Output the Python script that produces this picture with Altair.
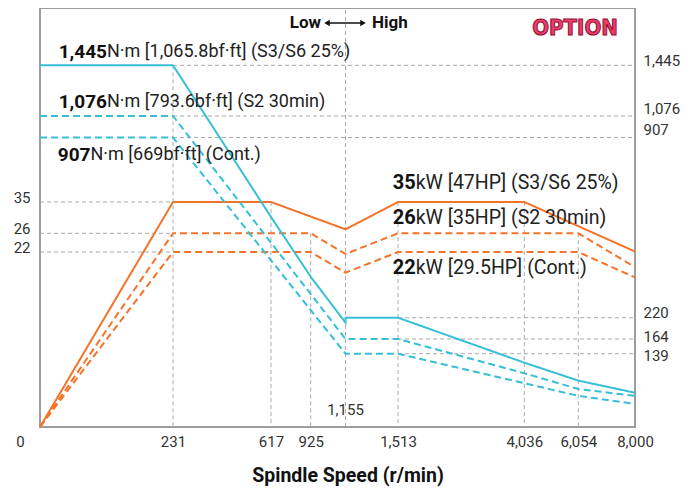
import altair as alt
import pandas as pd

# ---------------- data ----------------
speed_ticks = [0, 231, 617, 925, 1155, 1513, 4036, 6054, 8000]
speed_labels = [0, 231, 617, 925, 1513, 4036, 6054, 8000]
power_ticks = [22, 26, 35]
torque_ticks = [139, 164, 220, 907, 1076, 1445]

power_series = ["P S3/S6 25%", "P S2 30min", "P Cont."]
power_speed = [
    [0, 231, 617, 1155, 1513, 4036, 8000],
    [0, 231, 925, 1155, 1513, 6054, 8000],
    [0, 231, 925, 1155, 1513, 6054, 8000],
]
power_kw = [
    [0, 35, 35, 27.15, 35, 35, 22.1],
    [0, 26, 26, 21.75, 26, 26, 20.1],
    [0, 22, 22, 19.4, 22, 22, 18.8],
]

torque_series = ["T S3/S6 25%", "T S2 30min", "T Cont."]
torque_speed = [
    [0, 231, 617, 925, 1155, 1155, 1513, 4036, 6054, 8000],
    [0, 231, 1155, 1513, 4036, 6054, 8000],
    [0, 231, 1155, 1513, 4036, 6054, 8000],
]
torque_nm = [
    [1445, 1445, 604, 376, 207, 220, 220, 122, 88, 65],
    [1076, 1076, 164, 164, 102, 72, 59],
    [907, 907, 139, 139, 83, 59, 44],
]

power_bold = ["35", "26", "22"]
power_text = ["kW [47HP] (S3/S6 25%)", "kW [35HP] (S2 30min)", "kW [29.5HP] (Cont.)"]
power_label_level = [35, 26, 22]
torque_bold = ["1,445", "1,076", "907"]
torque_text = ["N·m [1,065.8bf·ft] (S3/S6 25%)", "N·m [793.6bf·ft] (S2 30min)", "N·m [669bf·ft] (Cont.)"]
torque_label_level = [1445, 1076, 907]

# reference (drop) lines
vdrop_power_speed = [617, 925, 1513, 4036, 6054]
vdrop_power_top = [35, 26, 35, 35, 26]
vdrop_torque_speed = [231]
vdrop_torque_top = [1445]
hline_power = [35, 26, 22]
hline_power_from = [0, 0, 0]
hline_power_to = [231, 231, 231]
hline_torque = [1445, 1076, 907, 220, 164, 139]
hline_torque_from = [231, 231, 231, 1513, 1513, 1513]
hline_torque_to = [8000] * 6

# ---------------- layout / style ----------------
W, H = 595, 419
X_RANGE = [0, 133, 231, 270.7, 305.5, 358, 484.3, 538.3, 595]
P_DOMAIN = [0, 22, 26, 35, 90]
P_RANGE = [419, 244, 225.3, 194, 0]
T_DOMAIN = [0, 139, 164, 220, 907, 1076, 1445, 1862]
T_RANGE = [419, 345.7, 331, 309.7, 129.5, 108, 57.3, 0]

ORANGE = "#f47328"
CYAN = "#36bfd6"
GRID = "#ababab"
FONT = "Roboto"
DASH = [7, 4]
COMMA = "format(datum.value, ',')"

xscale = alt.Scale(domain=speed_ticks, range=X_RANGE, nice=False, zero=False)
pscale = alt.Scale(domain=P_DOMAIN, range=P_RANGE, nice=False, zero=False)
tscale = alt.Scale(domain=T_DOMAIN, range=T_RANGE, nice=False, zero=False)

xaxis = alt.Axis(
    values=speed_labels, labelExpr=COMMA, grid=False, ticks=False, domain=False,
    labelFont=FONT, labelFontSize=15, labelColor="#333", labelPadding=7,
    labelOverlap=False, labelFlush=False,
    labelOffset={"condition": {"test": "datum.value === 0", "value": -20}, "value": 0},
    title="Spindle Speed (r/min)", titleFont=FONT, titleFontSize=19.5,
    titleFontWeight="bold", titleColor="#111", titlePadding=17, titleX=307.5,
)
paxis = alt.Axis(
    values=power_ticks, grid=False, ticks=False, domain=False, orient="left",
    labelFont=FONT, labelFontSize=15, labelColor="#333", labelPadding=10,
    labelOverlap=False, labelOffset=-5, title=None,
)
taxis = alt.Axis(
    values=torque_ticks, labelExpr=COMMA, grid=False, ticks=False, domain=False, orient="right",
    labelFont=FONT, labelFontSize=15, labelColor="#333", labelPadding=8,
    labelOverlap=False, title=None,
    labelOffset={"condition": [
        {"test": "datum.value === 1076", "value": -7.5},
        {"test": "datum.value === 907", "value": -8},
        {"test": "datum.value === 220", "value": -5.5},
        {"test": "datum.value === 164", "value": -3},
        {"test": "datum.value === 139", "value": 1.5},
    ], "value": -5},
)

X = alt.X("speed:Q", scale=xscale, axis=xaxis)


def long_df(names, xs, ys, vname):
    rows = []
    for n, xx, yy in zip(names, xs, ys):
        for i, (a, b) in enumerate(zip(xx, yy)):
            rows.append({"series": n, "speed": a, vname: b, "idx": i})
    return pd.DataFrame(rows)


pdf = long_df(power_series, power_speed, power_kw, "kw")
tdf = long_df(torque_series, torque_speed, torque_nm, "nm")

PY = lambda f="kw": alt.Y(f"{f}:Q", scale=pscale, axis=paxis)
TY = lambda f="nm": alt.Y(f"{f}:Q", scale=tscale, axis=taxis)

rule_style = dict(color=GRID, strokeDash=[4, 3], strokeWidth=1)

# ---- power group ----
p_v = alt.Chart(pd.DataFrame({"speed": vdrop_power_speed, "kw": vdrop_power_top, "zero": 0})).mark_rule(**rule_style).encode(
    x=X, y=PY(), y2=alt.Y2("zero:Q"))
p_h = alt.Chart(pd.DataFrame({"speed": hline_power_from, "speed2": hline_power_to, "kw": hline_power})).mark_rule(**rule_style).encode(
    x=X, x2=alt.X2("speed2:Q"), y=PY())
mid = alt.Chart(pd.DataFrame({"speed": [1155], "kw": [0], "top": [90]})).mark_rule(**rule_style).encode(
    x=X, y=PY(), y2=alt.Y2("top:Q"))
p_lines = alt.Chart(pdf).mark_line(strokeWidth=2, color=ORANGE).encode(
    x=X, y=PY(), detail="series:N", order="idx:Q",
    strokeDash=alt.StrokeDash("series:N", scale=alt.Scale(domain=power_series, range=[[1, 0], DASH, DASH]), legend=None),
)
p_texts = []
for b, t, lv, dy in zip(power_bold, power_text, power_label_level, [-18.7, -15, 16.3]):
    d = pd.DataFrame({"speed": [1513], "kw": [lv]})
    p_texts.append(alt.Chart(d).mark_text(text=b, align="right", baseline="middle", dx=17.7, dy=dy,
                                          font=FONT, fontSize=20, fontWeight="bold", color="#111").encode(x=X, y=PY()))
    p_texts.append(alt.Chart(d).mark_text(text=t, align="left", baseline="middle", dx=17.7, dy=dy,
                                          font=FONT, fontSize=19.5, color="#222").encode(x=X, y=PY()))
mid_label = alt.Chart(pd.DataFrame({"speed": [1155], "kw": [0]})).mark_text(
    text="1,155", align="center", baseline="middle", dy=-17, font=FONT, fontSize=15, color="#333").encode(x=X, y=PY())

power_layer = alt.layer(p_v, p_h, mid, p_lines, mid_label, *p_texts)

# ---- torque group ----
t_v = alt.Chart(pd.DataFrame({"speed": vdrop_torque_speed, "nm": vdrop_torque_top, "zero": 0})).mark_rule(**rule_style).encode(
    x=X, y=TY(), y2=alt.Y2("zero:Q"))
t_h = alt.Chart(pd.DataFrame({"speed": hline_torque_from, "speed2": hline_torque_to, "nm": hline_torque})).mark_rule(**rule_style).encode(
    x=X, x2=alt.X2("speed2:Q"), y=TY())
t_lines = alt.Chart(tdf).mark_line(strokeWidth=2, color=CYAN).encode(
    x=X, y=TY(), detail="series:N", order="idx:Q",
    strokeDash=alt.StrokeDash("series:N", scale=alt.Scale(domain=torque_series, range=[[1, 0], DASH, DASH]), legend=None),
)
t_texts = []
for b, t, lv, dy, sx in zip(torque_bold, torque_text, torque_label_level, [-13.6, -14.3, 17.5], [67, 67, 50.5]):
    d = pd.DataFrame({"speed": [0], "nm": [lv]})
    t_texts.append(alt.Chart(d).mark_text(text=b, align="right", baseline="middle", dx=sx, dy=dy,
                                          font=FONT, fontSize=19, fontWeight="bold", color="#111").encode(x=X, y=TY()))
    t_texts.append(alt.Chart(d).mark_text(text=t, align="left", baseline="middle", dx=sx, dy=dy,
                                          font=FONT, fontSize=18, color="#222").encode(x=X, y=TY()))

# header annotations
low = alt.Chart(pd.DataFrame({"a": [0]})).mark_text(text="Low", align="right", baseline="middle",
                                                    font=FONT, fontSize=17, fontWeight="bold", color="#111").encode(
    x=alt.value(281), y=alt.value(15))
high = alt.Chart(pd.DataFrame({"a": [0]})).mark_text(text="High", align="left", baseline="middle",
                                                     font=FONT, fontSize=17, fontWeight="bold", color="#111").encode(
    x=alt.value(332), y=alt.value(15))
arrow = alt.Chart(pd.DataFrame({"a": [0]})).mark_rule(color="#111", strokeWidth=1.5).encode(
    x=alt.value(287), x2=alt.value(323), y=alt.value(15))
head_l = alt.Chart(pd.DataFrame({"a": [0]})).mark_point(shape="triangle-left", filled=True, size=40, color="#111", opacity=1).encode(
    x=alt.value(287), y=alt.value(15))
head_r = alt.Chart(pd.DataFrame({"a": [0]})).mark_point(shape="triangle-right", filled=True, size=40, color="#111", opacity=1).encode(
    x=alt.value(323), y=alt.value(15))
logo = alt.Chart(pd.DataFrame({"a": [0]})).mark_text(text="OPTION", align="center", baseline="middle",
                                                     font="DejaVu Sans Condensed, DejaVu Sans", fontSize=22, fontWeight="bold",
                                                     color="#ec3d6c", stroke="#8e0d2f", strokeWidth=1).encode(
    x=alt.value(535), y=alt.value(20))

torque_layer = alt.layer(t_v, t_h, t_lines, *t_texts, arrow, head_l, head_r, low, high, logo)

chart = alt.layer(power_layer, torque_layer).resolve_scale(y="independent").properties(
    width=W, height=H,
    padding={"left": 32, "top": 0, "right": 45, "bottom": 60},
    autosize=alt.AutoSizeParams(type="none"),
    background="white",
).configure_view(stroke="#9d9d9d", strokeWidth=2)

chart.save("out.html", embed_options={"renderer": "svg", "actions": False})
